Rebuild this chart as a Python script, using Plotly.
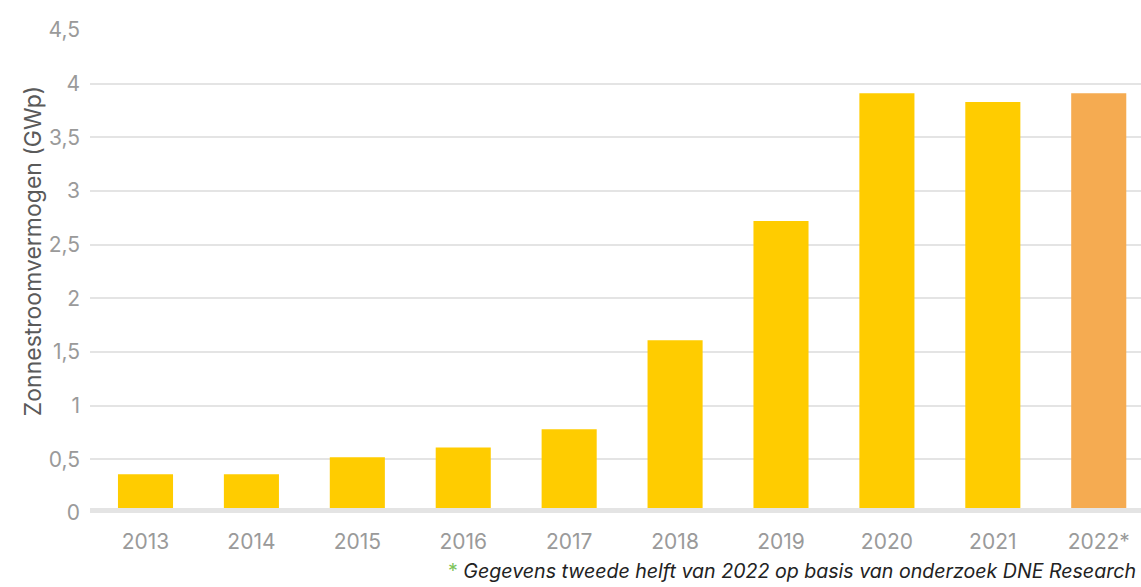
import plotly.graph_objects as go

# Installed solar capacity per year (GWp)
years = ["2013", "2014", "2015", "2016", "2017", "2018", "2019", "2020", "2021", "2022*"]
capacity_gwp = [0.36, 0.36, 0.52, 0.61, 0.78, 1.61, 2.72, 3.91, 3.83, 3.91]
bar_colors = ["#FFCC00"] * 9 + ["#F5AB51"]

y_ticks = [0, 0.5, 1, 1.5, 2, 2.5, 3, 3.5, 4, 4.5]

FONT = "Inter"
TICK_GREY = "#9a9a9a"
GRID = "#e4e4e4"

fig = go.Figure(
    go.Bar(
        x=list(range(len(years))),
        y=capacity_gwp,
        marker=dict(color=bar_colors, line=dict(width=0)),
        width=0.52,
        hoverinfo="skip",
    )
)

fig.update_layout(
    width=1141,
    height=587,
    margin=dict(l=90, r=0, t=30, b=74),
    paper_bgcolor="white",
    plot_bgcolor="white",
    separators=",.",
    showlegend=False,
    font=dict(family=FONT, color=TICK_GREY, size=21),
    xaxis=dict(
        range=[-0.524, 9.399],
        tickvals=list(range(len(years))),
        ticktext=years,
        showgrid=False,
        zeroline=False,
        showline=False,
        ticks="",
        ticklabelstandoff=14,
        tickfont=dict(family=FONT, size=21, color=TICK_GREY),
    ),
    yaxis=dict(
        range=[0, 4.5],
        tickvals=y_ticks,
        showgrid=True,
        gridcolor=GRID,
        gridwidth=2,
        zeroline=False,
        showline=False,
        ticks="",
        ticklabelstandoff=9,
        tickfont=dict(family=FONT, size=21, color=TICK_GREY),
    ),
    bargap=0.48,
)

# Heavier baseline under the bars
fig.add_shape(
    type="rect",
    xref="paper", yref="y",
    x0=0, x1=1, y0=0, y1=0.047,
    fillcolor=GRID, line=dict(width=0),
    layer="above",
)

# Vertical axis title
fig.add_annotation(
    text="Zonnestroomvermogen (GWp)",
    textangle=-90,
    xref="paper", yref="paper",
    x=0, y=0.542,
    xanchor="center", yanchor="middle",
    xshift=-57,
    showarrow=False,
    font=dict(family=FONT, size=23, color="#5a5a5a"),
)

# Footnote
fig.add_annotation(
    text='<span style="color:#7DC35B">*</span> <i>Gegevens tweede helft van 2022 op basis van onderzoek DNE Research</i>',
    xref="paper", yref="paper",
    x=1, y=-0.149,
    xanchor="right", yanchor="bottom",
    xshift=-3,
    showarrow=False,
    font=dict(family=FONT, size=19.6, color="#222222"),
)

fig.write_html("out.html")
